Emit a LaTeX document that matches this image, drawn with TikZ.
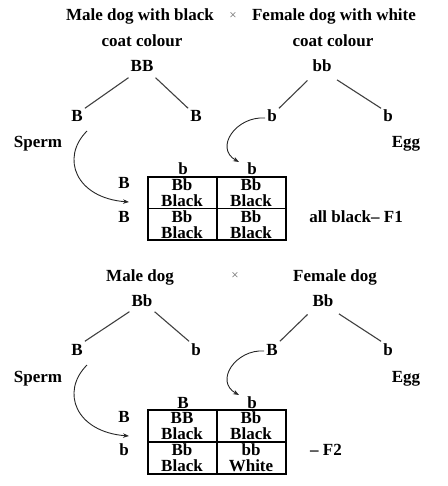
\documentclass[tikz,border=0pt]{standalone}
\usepackage{fontspec}
\setmainfont{Liberation Serif}
\usetikzlibrary{arrows.meta}
\begin{document}
\begin{tikzpicture}[x=1pt,y=-1pt,
  lbl/.style={font=\fontsize{17}{15.5}\selectfont\bfseries, inner sep=2pt, text height=11.5, text depth=3.5},
  cell/.style={font=\fontsize{17}{16}\selectfont\bfseries, inner sep=0pt, align=center},
  cross/.style={font=\fontsize{13}{14}\selectfont, text=black!60, inner sep=1pt},
  branch/.style={draw=black!75, line width=1.1},
  curve/.style={draw=black!85, line width=0.9, -{Stealth[length=6,width=4.5]}},
  tab/.style={draw, line width=1.3, minimum width=138, minimum height=63, inner sep=0pt}]
\useasboundingbox (0,0) rectangle (447,486);

% ---------- first cross ----------
\node[lbl] (m1) at (140,17) {Male dog with black};
\node[cross] (x1) at (233,16) {×};
\node[lbl] (f1) at (334,17) {Female dog with white};
\node[lbl] (m1b) at (142,43) {coat colour};
\node[lbl] (f1b) at (333,43) {coat colour};
\node[lbl] (BB) at (142,68) {BB};
\node[lbl] (bb) at (322,68) {bb};
\node[lbl] (gB1) at (77,118) {B};
\node[lbl] (gB2) at (196,118) {B};
\node[lbl] (gb1) at (272,118) {b};
\node[lbl] (gb2) at (388,118) {b};
\node[lbl] (sp1) at (38,144) {Sperm};
\node[lbl] (eg1) at (406,144) {Egg};

\draw[branch] (BB.south west) -- (gB1.north east);
\draw[branch] (BB.south east) -- (gB2.north west);
\draw[branch, shorten <=4] (bb.south west) -- (gb1.north east);
\draw[branch, shorten <=4] (bb.south east) -- (gb2.north west);

\node[tab] (t1) at (217,208.5) {};
\draw[line width=1.3] (t1.north) -- (t1.south);
\draw[line width=1.3] (t1.west) -- (t1.east);
\node[lbl] (c1a) at (183,171) {b};
\node[lbl] (c1b) at (252,171) {b};
\node[lbl] (r1a) at (124,185) {B};
\node[lbl] (r1b) at (124,218) {B};
\node[cell] (k11) at (182,193) {Bb\\Black};
\node[cell] (k12) at (251,193) {Bb\\Black};
\node[cell] (k21) at (182,225) {Bb\\Black};
\node[cell] (k22) at (251,225) {Bb\\Black};
\node[lbl] (F1) at (356,218) {all black– F1};

\coordinate (s1) at (87,131);
\coordinate (a1) at (129,202);
\coordinate (a2) at (239,162);
\draw[curve] (s1) .. controls (60,158) and (76,198) .. (a1);
\draw[curve] (gb1.west) .. controls (236,116) and (214,148) .. (a2);

% ---------- second cross ----------
\node[lbl] (m2) at (140,277) {Male dog};
\node[cross] (x2) at (235,276) {×};
\node[lbl] (f2) at (335,277) {Female dog};
\node[lbl] (Bb1) at (142,302) {Bb};
\node[lbl] (Bb2) at (323,302) {Bb};
\node[lbl] (gB3) at (77,351) {B};
\node[lbl] (gb3) at (196,351) {b};
\node[lbl] (gB4) at (272,351) {B};
\node[lbl] (gb4) at (388,351) {b};
\node[lbl] (sp2) at (38,378) {Sperm};
\node[lbl] (eg2) at (406,378) {Egg};

\draw[branch] (Bb1.south west) -- (gB3.north east);
\draw[branch] (Bb1.south east) -- (gb3.north west);
\draw[branch, shorten <=4] (Bb2.south west) -- (gB4.north east);
\draw[branch, shorten <=4] (Bb2.south east) -- (gb4.north west);

\node[tab, minimum height=64] (t2) at (217,442) {};
\draw[line width=1.3] (t2.north) -- (t2.south);
\draw[line width=1.3] (t2.west) -- (t2.east);
\node[lbl] (c2a) at (183,404) {B};
\node[lbl] (c2b) at (252,404) {b};
\node[lbl] (r2a) at (124,418) {B};
\node[lbl] (r2b) at (124,451) {b};
\node[cell] (m11) at (182,426) {BB\\Black};
\node[cell] (m12) at (251,426) {Bb\\Black};
\node[cell] (m21) at (182,458) {Bb\\Black};
\node[cell] (m22) at (251,458) {bb\\White};
\node[lbl] (F2) at (326,451) {– F2};

\coordinate (s2) at (87,365);
\coordinate (a3) at (129,436);
\coordinate (a4) at (239,395);
\draw[curve] (s2) .. controls (60,392) and (76,432) .. (a3);
\draw[curve] (gB4.west) .. controls (236,349) and (214,381) .. (a4);
\end{tikzpicture}
\end{document}
